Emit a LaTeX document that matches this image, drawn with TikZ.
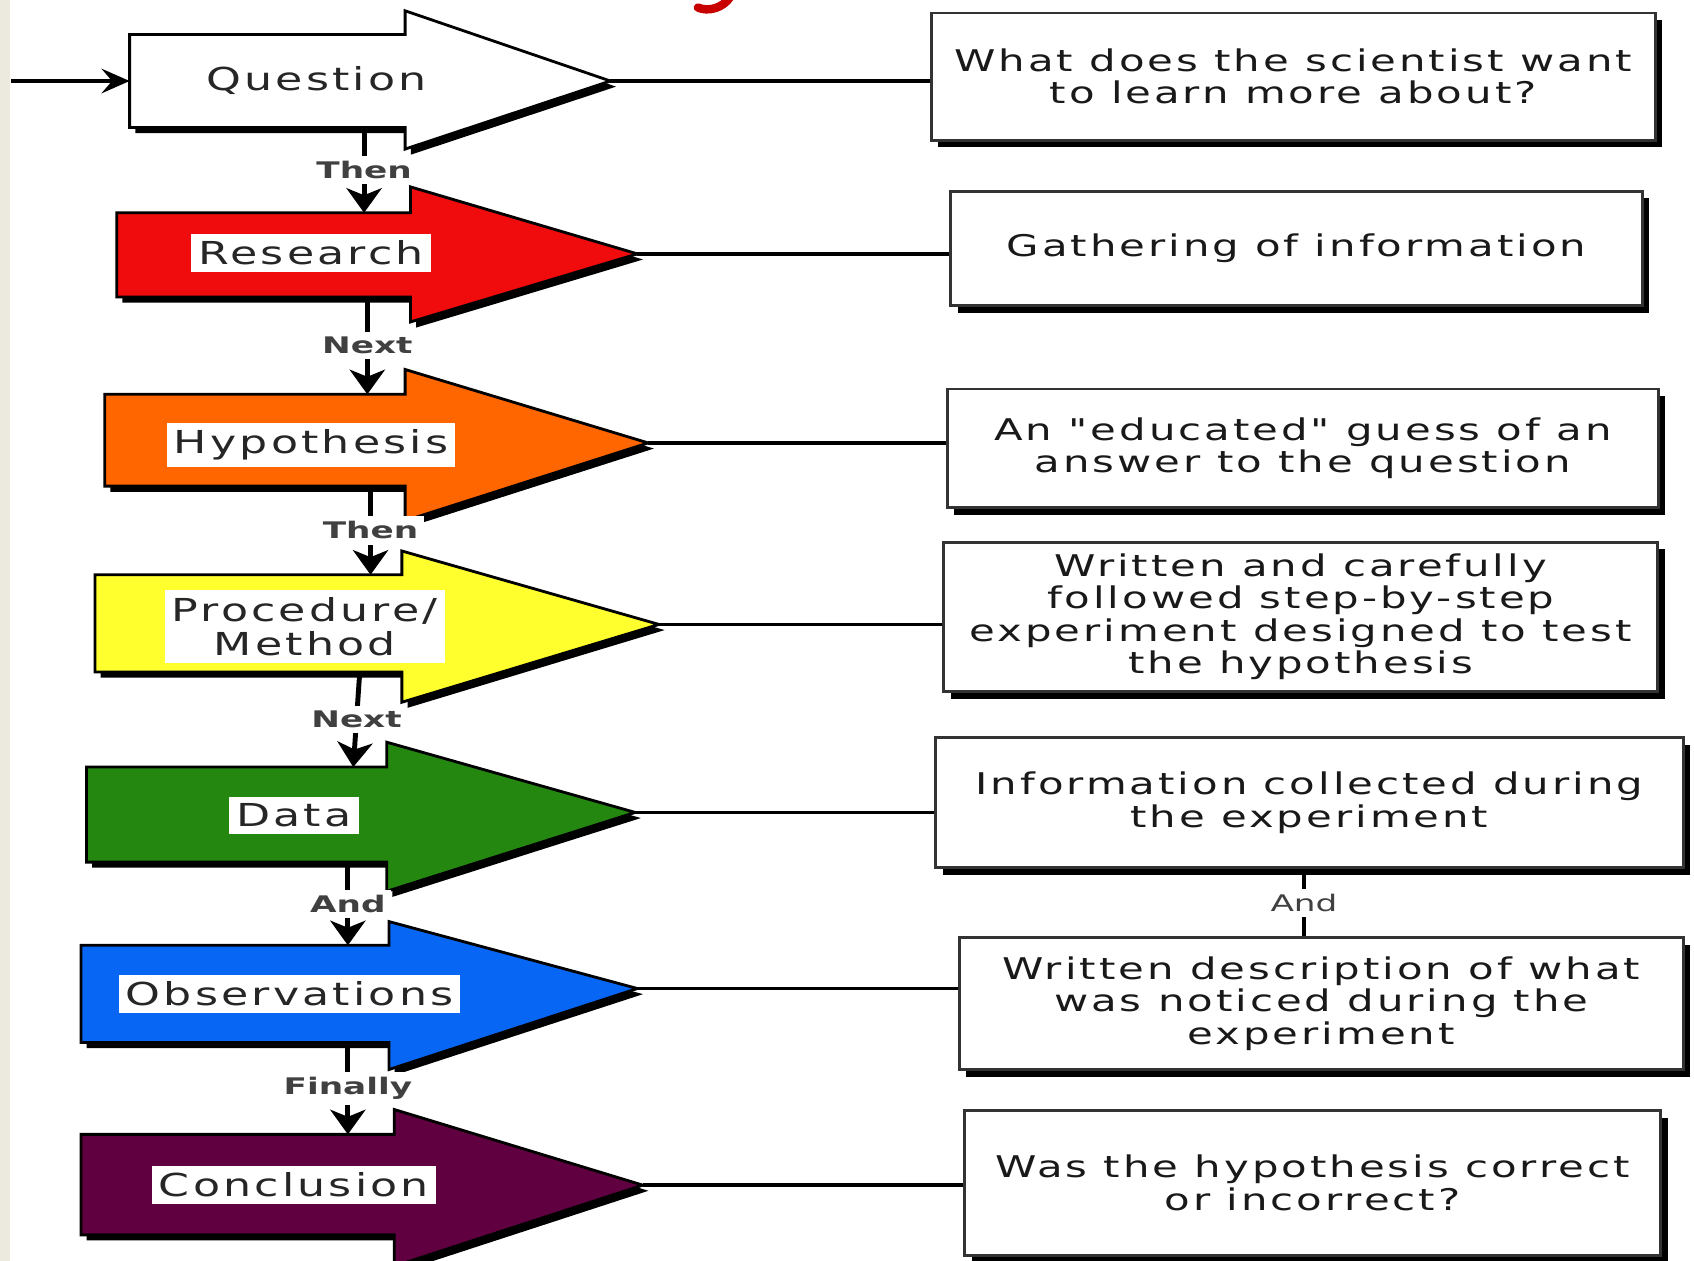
\documentclass[tikz,border=0pt]{standalone}
\usepackage{fontspec}
\usetikzlibrary{positioning, calc, arrows.meta, shadows}
\newfontfamily\handfont[FakeStretch=1.4, LetterSpace=10]{DejaVu Sans}
\newfontfamily\linkfont[FakeStretch=1.5]{DejaVu Sans}
\definecolor{stepred}{RGB}{240,12,12}
\definecolor{steporange}{RGB}{255,102,0}
\definecolor{stepyellow}{RGB}{255,255,45}
\definecolor{stepgreen}{RGB}{36,136,16}
\definecolor{stepblue}{RGB}{8,102,245}
\definecolor{stepplum}{RGB}{96,0,64}
\definecolor{paper}{RGB}{236,233,223}
\definecolor{titlered}{RGB}{200,0,0}

\begin{document}
\begin{tikzpicture}[
        x=0.010804cm, y=-0.010804cm,
        stepshape/.style={draw=black, line width=0.8pt, line join=miter,
            drop shadow={shadow xshift=1.6pt, shadow yshift=-1.6pt, fill=black, opacity=1}},
        steplabel/.style={rectangle, fill=white, inner sep=2pt, align=center, text=black!85,
            font=\handfont\fontsize{9}{9.6}\selectfont},
        descbox/.style={rectangle, draw=black!80, fill=white, line width=0.8pt, align=center, text=black!90,
            font=\handfont\fontsize{8.5}{9.2}\selectfont,
            drop shadow={shadow xshift=2pt, shadow yshift=-2pt, fill=black, opacity=1}},
        linklabel/.style={fill=white, inner sep=1.5pt, text=black!75,
            font=\linkfont\bfseries\fontsize{6.5}{7}\selectfont},
        steplink/.style={-{Stealth[length=7pt, width=10pt, inset=2pt]}, line width=1.4pt},
        tipline/.style={line width=1pt},
        inarrow/.style={-{Stealth[length=8pt, width=7pt, inset=3pt]}, line width=1pt},
    ]

    % ===== Page =====
    \useasboundingbox (0,0) rectangle (1568,1167);
    \fill[white] (0,0) rectangle (1568,1167);
    \fill[paper] (0,0) rectangle (9,1167);
    \draw[titlered, line width=2.4pt, line cap=round] (676,-3) .. controls (669,8) and (655,11) .. (646,7);

    % ===== Step arrows =====
    \foreach \nm/\clr/\xleft/\xneck/\xtip/\ytop/\ybot/\yhtop/\yhbot/\ytip/\xin/\xout in {
        Q/white/120/375/565/32/118/10/138/75/337/337,
        R/stepred/108/380/590/197/275/173/298/235/337/340,
        H/steporange/97/375/600/365/450/342/482/410/340/343,
        P/stepyellow/88/372/610/532/622/510/650/578/343/333,
        D/stepgreen/80/358/588/710/798/687/825/752/327/322,
        O/stepblue/75/360/590/875/965/853/990/915/322/322,
        C/stepplum/75/365/595/1050/1143/1027/1172/1097/322/322%
    } {
        \path[stepshape, fill=\clr] (\xleft,\ytop) -- (\xneck,\ytop) -- (\xneck,\yhtop) -- (\xtip,\ytip)
            -- (\xneck,\yhbot) -- (\xneck,\ybot) -- (\xleft,\ybot) -- cycle;
        \coordinate (\nm-in) at (\xin,\ytop);
        \coordinate (\nm-out) at (\xout,\ybot);
        \coordinate (\nm-tip) at (\xtip,\ytip);
        \coordinate (\nm-tail) at (\xleft,\ytip);
    }

    \node[steplabel] (QL) at (293,75) {Question};
    \node[steplabel] (RL) at (288,234) {Research};
    \node[steplabel] (HL) at (288,412) {Hypothesis};
    \node[steplabel] (PL) at (282,580) {Procedure/\\Method};
    \node[steplabel] (DL) at (272,755) {Data};
    \node[steplabel] (OL) at (268,920) {Observations};
    \node[steplabel] (CL) at (272,1097) {Conclusion};

    % ===== Links between steps =====
    \coordinate (START) at (10,75);
    \draw[inarrow] (START) -- (Q-tail);
    \draw[steplink] (Q-out) -- node[linklabel] {Then} (R-in);
    \draw[steplink] (R-out) -- node[linklabel] {Next} (H-in);
    \draw[steplink] (H-out) -- node[linklabel] {Then} (P-in);
    \draw[steplink] (P-out) -- node[linklabel] {Next} (D-in);
    \draw[steplink] (D-out) -- node[linklabel] {And} (O-in);
    \draw[steplink] (O-out) -- node[linklabel] {Finally} (C-in);

    % ===== Description boxes =====
    \node[descbox, minimum width=7.239cm, minimum height=1.275cm] (DQ) at (1197,71)
        {What does the scientist want\\to learn more about?};
    \node[descbox, minimum width=6.915cm, minimum height=1.145cm] (DR) at (1200,230)
        {Gathering of information};
    \node[descbox, minimum width=7.109cm, minimum height=1.188cm] (DH) at (1206,415)
        {An "educated" guess of an\\answer to the question};
    \node[descbox, minimum width=7.141cm, minimum height=1.372cm] (DP) at (1204,571)
        {Written and carefully\\followed step-by-step\\experiment designed to test\\the hypothesis};
    \node[descbox, minimum width=7.476cm, minimum height=1.296cm] (DD) at (1212,743)
        {Information collected during\\the experiment};
    \node[descbox, minimum width=7.239cm, minimum height=1.318cm] (DO) at (1223,929)
        {Written description of what\\was noticed during the\\experiment};
    \node[descbox, minimum width=6.958cm, minimum height=1.448cm] (DC) at (1215,1095)
        {Was the hypothesis correct\\or incorrect?};

    \foreach \nm in {Q, R, H, P, D, O, C} {
        \draw[tipline] (\nm-tip) -- (\nm-tip -| D\nm.west);
    }

    \coordinate (ANDX) at (1207,0);
    \draw[line width=1pt] (ANDX |- DD.south) -- node[linklabel, font=\linkfont\fontsize{6.5}{7}\selectfont] {And} (ANDX |- DO.north);

\end{tikzpicture}
\end{document}
